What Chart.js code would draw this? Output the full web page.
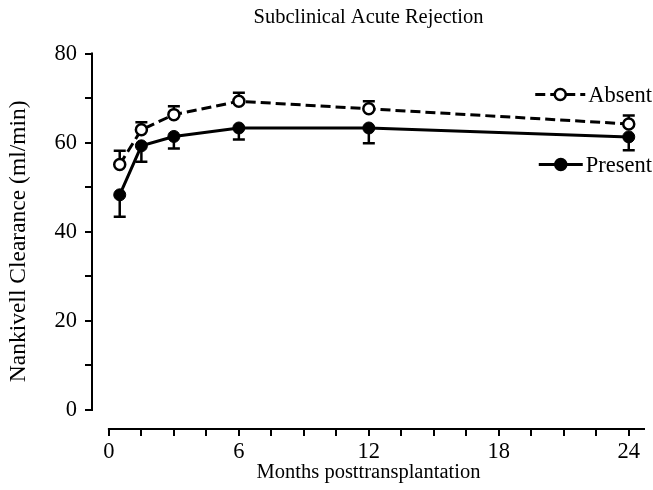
<!DOCTYPE html>
<html>
<head>
<meta charset="utf-8">
<script src="https://cdn.jsdelivr.net/npm/chart.js@4.4.0/dist/chart.umd.min.js"></script>
<style>
  body { margin: 0; background: #fff; }
  #wrap { width: 653px; height: 490px; }
</style>
</head>
<body>
<div id="wrap"><canvas id="lineChart"></canvas></div>
<script>
Chart.defaults.font.family = "'Liberation Serif', 'DejaVu Serif', serif";
Chart.defaults.font.size = 22.5;
Chart.defaults.color = 'black';

// months after transplant
let months = [0.5, 1.5, 3, 6, 12, 24]

// Subclinical acute rejection absent: mean and SEM (drawn upwards)
let absent_mean = [55.1, 62.9, 66.3, 69.3, 67.6, 64.2]
let absent_err = [3.1, 1.7, 1.9, 1.9, 1.7, 1.9]

// Subclinical acute rejection present: mean and SEM (drawn downwards)
let present_mean = [48.3, 59.3, 61.4, 63.3, 63.3, 61.3]
let present_err = [4.9, 3.6, 2.7, 2.6, 3.4, 3.0]

let x_ticks = [0, 1.5, 3, 4.5, 6, 7.5, 9, 10.5, 12, 13.5, 15, 16.5, 18, 19.5, 21, 22.5, 24]
let y_ticks = [0, 10, 20, 30, 40, 50, 60, 70, 80]

function toPoints(xs, ys) {
  let pts = []
  for (let i = 0; i < xs.length; i++) {
    pts.push({x: xs[i], y: ys[i]})
  }
  return pts
}

// axis lines that stop at the first and last tick (offset axes)
const axisLines = {
  id: 'axisLines',
  afterDraw(chart) {
    const ctx = chart.ctx
    const x = chart.scales.x
    const y = chart.scales.y
    const area = chart.chartArea
    ctx.save()
    ctx.strokeStyle = 'black'
    ctx.lineWidth = 2
    ctx.beginPath()
    ctx.moveTo(area.left, y.getPixelForValue(0) + 1)
    ctx.lineTo(area.left, y.getPixelForValue(80) - 1)
    ctx.moveTo(x.getPixelForValue(0) - 1, area.bottom)
    ctx.lineTo(area.right, area.bottom)
    ctx.stroke()
    ctx.restore()
  }
}

// one sided error bars
const errorBars = {
  id: 'errorBars',
  beforeDatasetsDraw(chart) {
    const ctx = chart.ctx
    const x = chart.scales.x
    const y = chart.scales.y
    ctx.save()
    ctx.strokeStyle = 'black'
    ctx.lineWidth = 2.5
    for (let i = 0; i < months.length; i++) {
      let px = x.getPixelForValue(months[i])
      let y0 = y.getPixelForValue(absent_mean[i])
      let y1 = y.getPixelForValue(absent_mean[i] + absent_err[i])
      ctx.beginPath()
      ctx.moveTo(px, y0); ctx.lineTo(px, y1)
      ctx.moveTo(px - 6, y1); ctx.lineTo(px + 6, y1)
      ctx.stroke()
      y0 = y.getPixelForValue(present_mean[i])
      y1 = y.getPixelForValue(present_mean[i] - present_err[i])
      ctx.beginPath()
      ctx.moveTo(px, y0); ctx.lineTo(px, y1)
      ctx.moveTo(px - 6, y1); ctx.lineTo(px + 6, y1)
      ctx.stroke()
    }
    ctx.restore()
  }
}

// legend entries placed beside the lines, as in the original figure
const sideLegend = {
  id: 'sideLegend',
  afterDraw(chart) {
    const ctx = chart.ctx
    const area = chart.chartArea
    const items = chart.data.datasets
    const rows = [area.top + 41, area.top + 111]
    const lens = [50, 44]
    ctx.save()
    ctx.font = "22.5px 'Liberation Serif'"
    ctx.textBaseline = 'middle'
    ctx.textAlign = 'right'
    for (let i = 0; i < items.length; i++) {
      let ds = items[i]
      let ty = rows[i]
      let tx = 652
      let w = ctx.measureText(ds.label).width
      ctx.fillStyle = 'black'
      ctx.fillText(ds.label, tx, ty + 1)
      let x1 = tx - w - 3
      let x0 = x1 - lens[i]
      ctx.strokeStyle = 'black'
      ctx.lineWidth = 3
      ctx.setLineDash(ds.borderDash || [])
      ctx.beginPath()
      ctx.moveTo(x0, ty); ctx.lineTo(x1, ty)
      ctx.stroke()
      ctx.setLineDash([])
      ctx.beginPath()
      ctx.arc((x0 + x1) / 2, ty, 5.5, 0, Math.PI * 2)
      ctx.fillStyle = ds.pointBackgroundColor
      ctx.fill()
      ctx.lineWidth = 2.5
      ctx.stroke()
    }
    ctx.restore()
  }
}

const ctx = document.getElementById('lineChart').getContext('2d')

var myChart = new Chart(ctx, {
  type: 'line',
  data: {
    datasets: [{
      label: 'Absent',
      data: toPoints(months, absent_mean),
      borderColor: 'black',
      borderWidth: 3,
      borderDash: [10, 5],
      pointRadius: 5.5,
      pointBorderWidth: 2.5,
      pointBackgroundColor: 'white',
      pointBorderColor: 'black',
      tension: 0
    }, {
      label: 'Present',
      data: toPoints(months, present_mean),
      borderColor: 'black',
      borderWidth: 3,
      pointRadius: 6,
      pointBorderWidth: 1,
      pointBackgroundColor: 'black',
      pointBorderColor: 'black',
      tension: 0
    }]
  },
  options: {
    responsive: true,
    maintainAspectRatio: false,
    animation: false,
    layout: { padding: { right: 0 } },
    plugins: {
      legend: { display: false },
      tooltip: { enabled: false },
      title: {
        display: true,
        fullSize: false,
        text: 'Subclinical Acute Rejection',
        font: { size: 20.5, weight: 'normal' },
        color: 'black',
        padding: { top: 5, bottom: 24 }
      }
    },
    scales: {
      x: {
        type: 'linear',
        min: -0.78,
        max: 24.75,
        afterBuildTicks: (scale) => { scale.ticks = x_ticks.map(v => ({value: v})) },
        afterFit: (scale) => { scale.height = 61 },
        border: { display: false },
        grid: { drawOnChartArea: false, drawTicks: true, tickLength: 7, color: 'black', lineWidth: 2 },
        ticks: {
          padding: 3,
          maxRotation: 0,
          autoSkip: false,
          callback: (v) => (v % 6 === 0 ? v : '')
        },
        title: {
          display: true,
          text: 'Months posttransplantation',
          font: { size: 20.5 },
          padding: { top: 0, bottom: 5 }
        }
      },
      y: {
        min: -4.27,
        max: 80,
        afterBuildTicks: (scale) => { scale.ticks = y_ticks.map(v => ({value: v})) },
        afterFit: (scale) => { scale.width = 92 },
        border: { display: false },
        grid: { drawOnChartArea: false, drawTicks: true, tickLength: 7, color: 'black', lineWidth: 2 },
        ticks: {
          padding: 8,
          autoSkip: false,
          callback: (v) => (v % 20 === 0 ? v : '')
        },
        title: {
          display: true,
          text: 'Nankivell Clearance (ml/min)',
          font: { size: 23.5 },
          padding: { top: 5, bottom: 0 }
        }
      }
    }
  },
  plugins: [axisLines, errorBars, sideLegend]
});
</script>
</body>
</html>
